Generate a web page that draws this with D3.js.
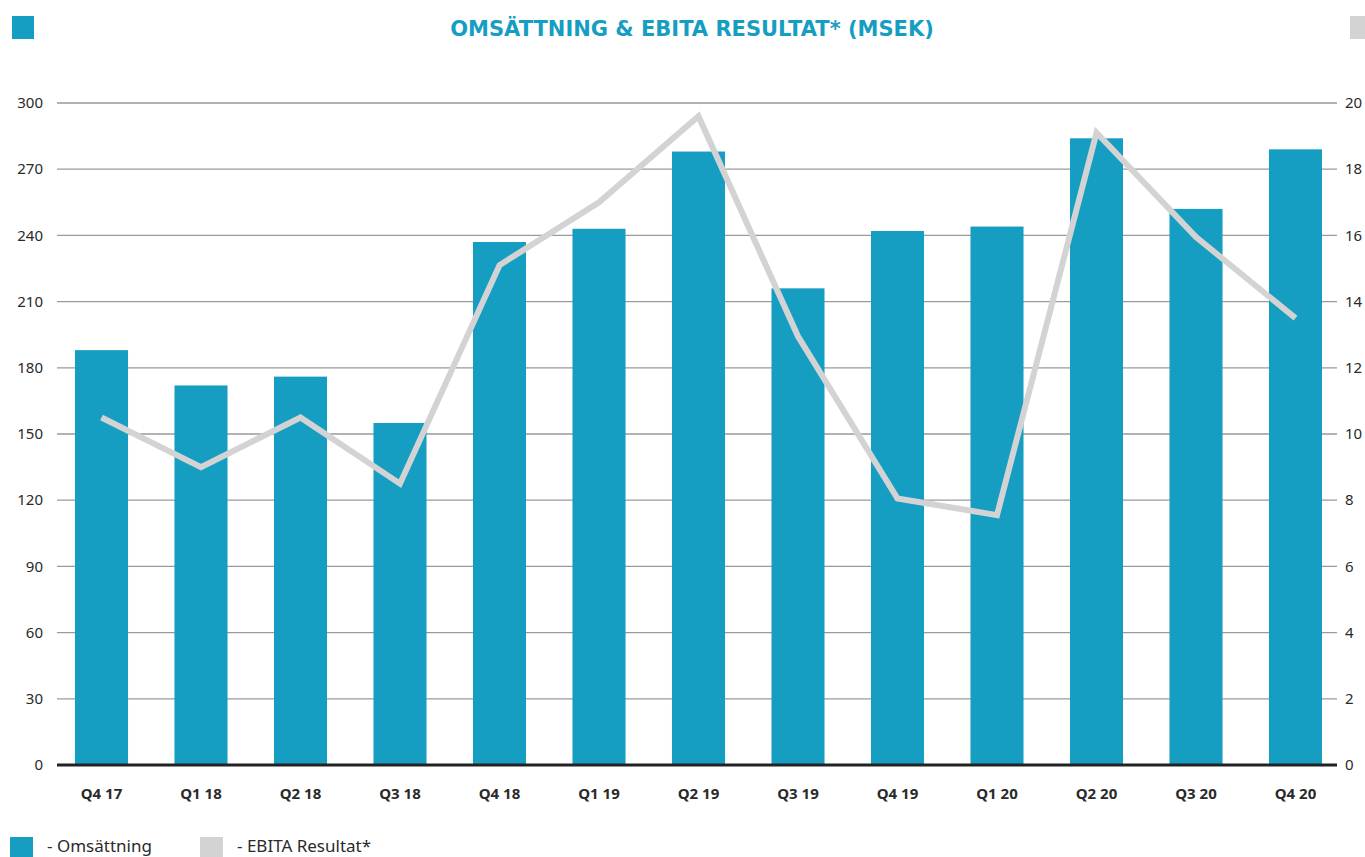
<!DOCTYPE html>
<html>
<head>
<meta charset="utf-8">
<script src="https://cdn.jsdelivr.net/npm/d3@7"></script>
<style>
  body { margin: 0; background: #fff; }
  svg { display: block; font-family: "Noto Sans", "DejaVu Sans", sans-serif; }
</style>
</head>
<body>
<div id="chart"></div>
<script>
// Data
const quarters = ["Q4 17", "Q1 18", "Q2 18", "Q3 18", "Q4 18", "Q1 19", "Q2 19",
  "Q3 19", "Q4 19", "Q1 20", "Q2 20", "Q3 20", "Q4 20"];
const omsattning = [188, 172, 176, 155, 237, 243, 278, 216, 242, 244, 284, 252, 279];
const ebita = [10.5, 9.0, 10.5, 8.5, 15.1, 17.0, 19.6, 12.95, 8.05, 7.55, 19.1, 15.95, 13.5];
const leftTicks = [0, 30, 60, 90, 120, 150, 180, 210, 240, 270, 300];
const rightTicks = [0, 2, 4, 6, 8, 10, 12, 14, 16, 18, 20];

const width = 1365, height = 857;
const barColor = "#159dc2";
const lineColor = "#d3d3d3";

const svg = d3.select("#chart").append("svg")
  .attr("width", width).attr("height", height);

// Scales
const x = d3.scaleBand()
  .domain(quarters)
  .range([51.75, 1345.25])
  .paddingInner(0.467)
  .paddingOuter(0.2335);

const yLeft = d3.scaleLinear().domain([0, 300]).range([765, 103]);
const yRight = d3.scaleLinear().domain([0, 20]).range([765, 103]);

const gridLeft = 57, gridRight = 1337;

// Title and corner markers
svg.append("rect").attr("x", 12).attr("y", 16).attr("width", 22).attr("height", 23).style("fill", barColor);
svg.append("rect").attr("x", 1350).attr("y", 16).attr("width", 15).attr("height", 23).style("fill", lineColor);

svg.append("text")
  .attr("x", 692)
  .attr("y", 36)
  .attr("text-anchor", "middle")
  .style("font-family", "'DejaVu Sans', sans-serif")
  .style("font-size", "21px")
  .style("font-weight", "bold")
  .style("fill", barColor)
  .text("OMSÄTTNING & EBITA RESULTAT* (MSEK)");

// Gridlines
svg.append("g").selectAll("line")
  .data(leftTicks.filter(d => d > 0))
  .join("line")
  .attr("x1", gridLeft).attr("x2", gridRight)
  .attr("y1", d => yLeft(d)).attr("y2", d => yLeft(d))
  .style("stroke", "#9a9a9a")
  .style("stroke-width", 1.3);

// Left axis labels
svg.append("g").selectAll("text")
  .data(leftTicks)
  .join("text")
  .attr("x", 43)
  .attr("y", d => yLeft(d))
  .attr("dy", "0.35em")
  .attr("text-anchor", "end")
  .style("font-size", "15px")
  .style("fill", "#2a2a2a")
  .text(d => d);

// Right axis labels
svg.append("g").selectAll("text")
  .data(rightTicks)
  .join("text")
  .attr("x", 1345)
  .attr("y", d => yRight(d))
  .attr("dy", "0.35em")
  .attr("text-anchor", "start")
  .style("font-size", "15px")
  .style("fill", "#2a2a2a")
  .text(d => d);

// Bars
svg.append("g").selectAll("rect")
  .data(omsattning)
  .join("rect")
  .attr("x", (d, i) => x(quarters[i]))
  .attr("y", d => yLeft(d))
  .attr("width", x.bandwidth())
  .attr("height", d => yLeft(0) - yLeft(d))
  .style("fill", barColor);

// Baseline
svg.append("line")
  .attr("x1", gridLeft).attr("x2", gridRight)
  .attr("y1", yLeft(0)).attr("y2", yLeft(0))
  .style("stroke", "#222")
  .style("stroke-width", 3);

// EBITA line
const line = d3.line()
  .x((d, i) => x(quarters[i]) + x.bandwidth() / 2)
  .y(d => yRight(d));

svg.append("path")
  .datum(ebita)
  .attr("d", line)
  .style("fill", "none")
  .style("stroke", lineColor)
  .style("stroke-width", 6)
  .style("stroke-linejoin", "miter");

// X labels
svg.append("g").selectAll("text")
  .data(quarters)
  .join("text")
  .attr("x", d => x(d) + x.bandwidth() / 2)
  .attr("y", 799)
  .attr("text-anchor", "middle")
  .style("font-size", "15px")
  .style("font-weight", "bold")
  .style("fill", "#2a2a2a")
  .text(d => d);

// Legend
const legendItems = [
  { label: "- Omsättning", color: barColor, x: 10 },
  { label: "- EBITA Resultat*", color: lineColor, x: 200 }
];
legendItems.forEach(item => {
  svg.append("rect")
    .attr("x", item.x).attr("y", 837)
    .attr("width", 23).attr("height", 20)
    .style("fill", item.color);
  svg.append("text")
    .attr("x", item.x + 37)
    .attr("y", 852)
    .style("font-size", "17px")
    .style("fill", "#2a2a2a")
    .text(item.label);
});
</script>
</body>
</html>
